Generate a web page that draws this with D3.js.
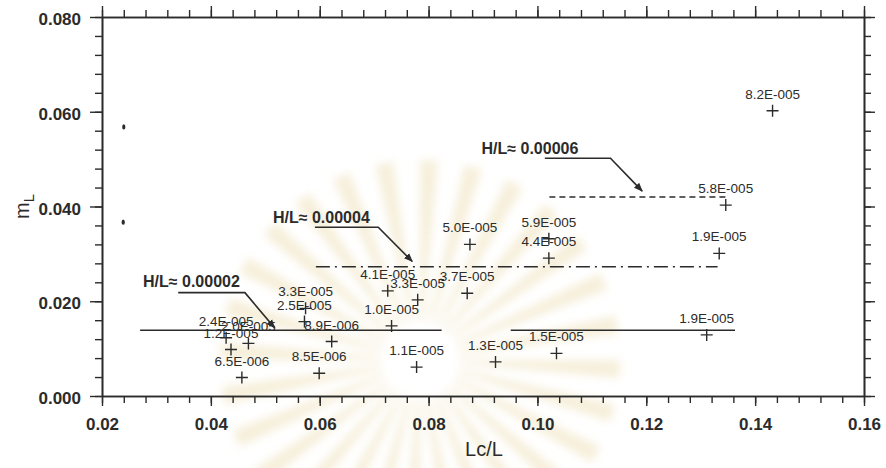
<!DOCTYPE html>
<html>
<head>
<meta charset="utf-8">
<script src="https://cdn.jsdelivr.net/npm/d3@7/dist/d3.min.js"></script>
<style>
  body { margin: 0; background: #fff; }
  svg { display: block; font-family: "Liberation Sans", Arial, sans-serif; }
</style>
</head>
<body>
<svg id="chart" width="886" height="468"></svg>
<script>
// ---- data ----
const xTickValues = [0.02, 0.04, 0.06, 0.08, 0.10, 0.12, 0.14, 0.16];
const xTickLabels = ["0.02", "0.04", "0.06", "0.08", "0.10", "0.12", "0.14", "0.16"];
const yTickValues = [0.000, 0.020, 0.040, 0.060, 0.080];
const yTickLabels = ["0.000", "0.020", "0.040", "0.060", "0.080"];

// measured points: Lc/L, m_L and the H/L value written beside each
const pointLc = [0.1432, 0.1346, 0.1334, 0.1311, 0.1035, 0.0923, 0.1021, 0.1021,
                 0.0876, 0.0871, 0.0778, 0.0780, 0.0725, 0.0732, 0.0599, 0.0622,
                 0.0574, 0.0572, 0.0428, 0.0469, 0.0437, 0.0457];
const pointM = [0.0602, 0.0403, 0.0301, 0.0129, 0.0090, 0.0072, 0.0332, 0.0291,
                0.0320, 0.0217, 0.0061, 0.0203, 0.0222, 0.0148, 0.0048, 0.0115,
                0.0185, 0.0157, 0.0123, 0.0111, 0.0098, 0.0039];
const pointHL = ["8.2E-005", "5.8E-005", "1.9E-005", "1.9E-005", "1.5E-005", "1.3E-005",
                 "5.9E-005", "4.4E-005", "5.0E-005", "3.7E-005", "1.1E-005", "3.3E-005",
                 "4.1E-005", "1.0E-005", "8.5E-006", "8.9E-006", "3.3E-005", "2.5E-005",
                 "2.4E-005", "2.0E-005", "1.2E-005", "6.5E-006"];

// average m_L levels for each H/L group
const levelNames = ["H/L\u2248 0.00002", "H/L\u2248 0.00004", "H/L\u2248 0.00006"];
const levelM = [0.0139, 0.0273, 0.0420];
const levelSpans = [
  [[0.0270, 0.0824], [0.0951, 0.1363]],
  [[0.0593, 0.1331]],
  [[0.1022, 0.1346]]
];

// two small ink spots near the left edge
const spotLc = [0.0240, 0.0239];
const spotM = [0.0568, 0.0367];

// ---- layout ----
const svg = d3.select("#chart");
const W = 886, H = 468;
const plot = { left: 102, right: 864, top: 17, bottom: 396 };
const ink = "#2b2b2b";

const x = d3.scaleLinear().domain([0.02, 0.16]).range([plot.left, plot.right]);
const y = d3.scaleLinear().domain([0, 0.08]).range([plot.bottom, plot.top]);

// pale emblem in the background
const defs = svg.append("defs");
defs.append("filter").attr("id", "soft")
  .append("feGaussianBlur").attr("stdDeviation", 4);
defs.append("marker").attr("id", "arrow")
  .attr("viewBox", "0 0 10 10").attr("refX", 9).attr("refY", 5)
  .attr("markerWidth", 9).attr("markerHeight", 9).attr("markerUnits", "userSpaceOnUse")
  .attr("orient", "auto")
  .append("path").attr("d", "M0,1 L10,5 L0,9 Z").attr("fill", ink);

const emblem = svg.append("g").attr("filter", "url(#soft)").attr("opacity", 0.55);
const cx = 420, cy = 360, nRays = 28;
const rays = d3.range(nRays).map(i => {
  const a0 = (i / nRays) * 2 * Math.PI, a1 = a0 + Math.PI / nRays * 0.8;
  return { a0, a1 };
});
const rayArc = d3.arc().innerRadius(40).outerRadius(200);
emblem.selectAll("path").data(rays).join("path")
  .attr("transform", `translate(${cx},${cy})`)
  .attr("d", d => rayArc({ startAngle: d.a0, endAngle: d.a1 }))
  .attr("fill", "#efe2bd");

// ---- axes ----
const xMinor = d3.range(0, 36).map(i => 0.02 + i * 0.004).filter(v => v <= 0.1601);
const yMinor = d3.range(0, 21).map(i => i * 0.004).filter(v => v <= 0.0801);

function styleAxis(g) {
  g.selectAll("path.domain").attr("stroke", ink).attr("stroke-width", 1.6);
  g.selectAll(".tick line").attr("stroke", ink).attr("stroke-width", 1.4);
  g.selectAll(".tick text").attr("fill", ink)
    .style("font-size", "17px").style("font-weight", "bold")
    .style("font-family", "'Liberation Sans', Arial, sans-serif");
}

// bottom
svg.append("g").attr("transform", `translate(0,${plot.bottom})`)
  .call(d3.axisBottom(x).tickValues(xMinor).tickSize(7).tickFormat("").tickSizeOuter(0))
  .call(styleAxis);
svg.append("g").attr("transform", `translate(0,${plot.bottom})`)
  .call(d3.axisBottom(x).tickValues(xTickValues).tickSize(10).tickPadding(12)
    .tickFormat((d, i) => xTickLabels[i]).tickSizeOuter(0))
  .call(styleAxis);
// top
svg.append("g").attr("transform", `translate(0,${plot.top})`)
  .call(d3.axisTop(x).tickValues(xMinor).tickSize(7).tickFormat("").tickSizeOuter(0))
  .call(styleAxis);
svg.append("g").attr("transform", `translate(0,${plot.top})`)
  .call(d3.axisTop(x).tickValues(xTickValues).tickSize(11).tickFormat("").tickSizeOuter(0))
  .call(styleAxis);
// left
svg.append("g").attr("transform", `translate(${plot.left},0)`)
  .call(d3.axisLeft(y).tickValues(yMinor).tickSize(7).tickFormat("").tickSizeOuter(0))
  .call(styleAxis);
const yAx = svg.append("g").attr("transform", `translate(${plot.left},0)`)
  .call(d3.axisLeft(y).tickValues(yTickValues).tickSize(12).tickPadding(9)
    .tickFormat((d, i) => yTickLabels[i]).tickSizeOuter(0))
  .call(styleAxis);
yAx.selectAll(".tick text").attr("dy", "0.45em");
// right
svg.append("g").attr("transform", `translate(${plot.right},0)`)
  .call(d3.axisRight(y).tickValues(yMinor).tickSize(7).tickFormat("").tickSizeOuter(0))
  .call(styleAxis);
svg.append("g").attr("transform", `translate(${plot.right},0)`)
  .call(d3.axisRight(y).tickValues(yTickValues).tickSize(11).tickFormat("").tickSizeOuter(0))
  .call(styleAxis);

// axis titles
svg.append("text")
  .attr("x", (plot.left + plot.right) / 2 + 1).attr("y", 456)
  .attr("text-anchor", "middle").attr("fill", ink)
  .style("font-size", "20px")
  .text("Lc/L");

const yTitle = svg.append("text")
  .attr("transform", `translate(29,${(plot.top + plot.bottom) / 2}) rotate(-90)`)
  .attr("text-anchor", "middle").attr("fill", ink)
  .style("font-size", "20px");
yTitle.append("tspan").text("m");
yTitle.append("tspan").attr("dy", 5).style("font-size", "15px").text("L");

// ---- level lines ----
const levelDash = ["none", "14,5,2,5", "6,4"];
const levelGroup = svg.append("g");
levelSpans.forEach((spans, k) => {
  spans.forEach(s => {
    levelGroup.append("line")
      .attr("x1", x(s[0])).attr("x2", x(s[1]))
      .attr("y1", y(levelM[k])).attr("y2", y(levelM[k]))
      .attr("stroke", ink).attr("stroke-width", 1.5)
      .attr("stroke-dasharray", levelDash[k]);
  });
});

// ---- H/L annotations with leader arrows (data coordinates) ----
const notes = [
  { text: levelNames[0], at: [0.02753, 0.02310], leader: [[0.0340, 0.02182], [0.04626, 0.02182], [0.05170, 0.01440]] },
  { text: levelNames[1], at: [0.05141, 0.03650], leader: [[0.05912, 0.03563], [0.07075, 0.03563], [0.07700, 0.02840]] },
  { text: levelNames[2], at: [0.08973, 0.05100], leader: [[0.10136, 0.05020], [0.11342, 0.05020], [0.11925, 0.04325]] }
];
const leaderLine = d3.line().x(d => x(d[0])).y(d => y(d[1]));
notes.forEach(n => {
  svg.append("text")
    .attr("x", x(n.at[0])).attr("y", y(n.at[1]))
    .attr("fill", ink)
    .style("font-size", "16px").style("font-weight", "bold")
    .text(n.text);
  svg.append("path")
    .attr("d", leaderLine(n.leader))
    .attr("fill", "none").attr("stroke", ink).attr("stroke-width", 1.6)
    .attr("marker-end", "url(#arrow)");
});

// ---- points ----
const pts = pointLc.map((v, i) => ({ lc: v, m: pointM[i], hl: pointHL[i] }));
const gPts = svg.append("g");
gPts.selectAll("path").data(pts).join("path")
  .attr("d", d => {
    const px = x(d.lc), py = y(d.m), r = 6;
    return `M${px - r},${py}H${px + r}M${px},${py - r}V${py + r}`;
  })
  .attr("stroke", ink).attr("stroke-width", 1.4).attr("fill", "none");
gPts.selectAll("text").data(pts).join("text")
  .attr("x", d => x(d.lc)).attr("y", d => y(d.m) - 12)
  .attr("text-anchor", "middle").attr("fill", ink)
  .style("font-size", "13.5px")
  .text(d => d.hl);

// ink spots
svg.append("g").selectAll("ellipse").data(spotLc).join("ellipse")
  .attr("cx", (d) => x(d)).attr("cy", (d, i) => y(spotM[i]))
  .attr("rx", 1.6).attr("ry", 2.6).attr("fill", ink);
</script>
</body>
</html>
